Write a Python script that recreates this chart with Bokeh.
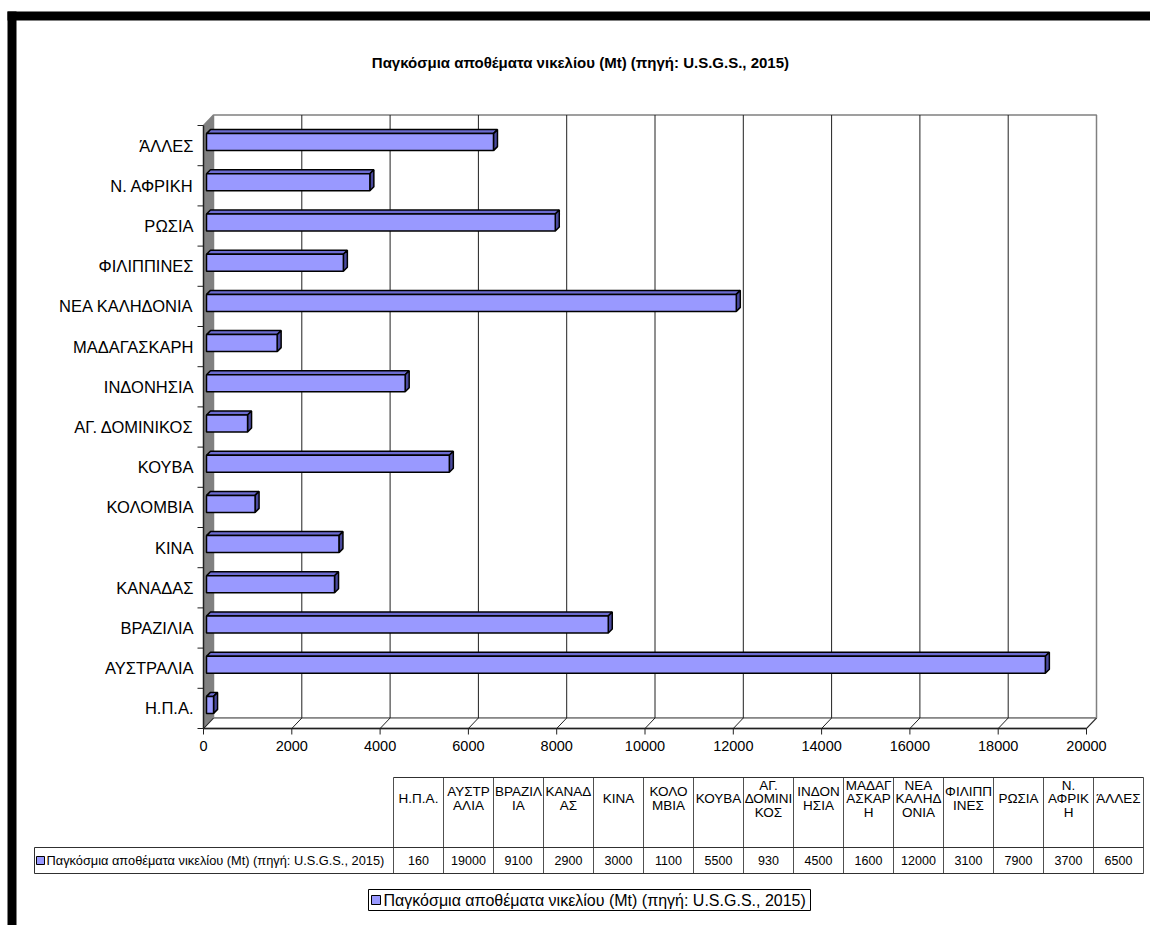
from bokeh.plotting import figure
from bokeh.models import Range1d
from bokeh.embed import file_html
from bokeh.resources import INLINE
from bokeh.core.properties import value

# ---------------- data ----------------
categories = ["Η.Π.Α.", "ΑΥΣΤΡΑΛΙΑ", "ΒΡΑΖΙΛΙΑ", "ΚΑΝΑΔΑΣ", "ΚΙΝΑ", "ΚΟΛΟΜΒΙΑ", "ΚΟΥΒΑ",
              "ΑΓ. ΔΟΜΙΝΙΚΟΣ", "ΙΝΔΟΝΗΣΙΑ", "ΜΑΔΑΓΑΣΚΑΡΗ", "ΝΕΑ ΚΑΛΗΔΟΝΙΑ", "ΦΙΛΙΠΠΙΝΕΣ",
              "ΡΩΣΙΑ", "Ν. ΑΦΡΙΚΗ", "ΆΛΛΕΣ"]
values = [160, 19000, 9100, 2900, 3000, 1100, 5500, 930, 4500, 1600, 12000, 3100, 7900, 3700, 6500]
table_headers = [["Η.Π.Α."], ["ΑΥΣΤΡ", "ΑΛΙΑ"], ["ΒΡΑΖΙΛ", "ΙΑ"], ["ΚΑΝΑΔ", "ΑΣ"], ["ΚΙΝΑ"],
                 ["ΚΟΛΟ", "ΜΒΙΑ"], ["ΚΟΥΒΑ"], ["ΑΓ.", "ΔΟΜΙΝΙ", "ΚΟΣ"], ["ΙΝΔΟΝ", "ΗΣΙΑ"],
                 ["ΜΑΔΑΓ", "ΑΣΚΑΡ", "Η"], ["ΝΕΑ", "ΚΑΛΗΔ", "ΟΝΙΑ"], ["ΦΙΛΙΠΠ", "ΙΝΕΣ"], ["ΡΩΣΙΑ"],
                 ["Ν.", "ΑΦΡΙΚ", "Η"], ["ΆΛΛΕΣ"]]
ticks = [0, 2000, 4000, 6000, 8000, 10000, 12000, 14000, 16000, 18000, 20000]
series_name = "Παγκόσμια αποθέματα νικελίου  (Mt) (πηγή: U.S.G.S., 2015)"
title_text = "Παγκόσμια αποθέματα νικελίου  (Mt) (πηγή: U.S.G.S., 2015)"

# ---------------- geometry ----------------
W, H = 1150, 925
XMAX = 20000
k = 883.0 / XMAX          # px per value unit
U = 40.2                  # px per category
X0_PX = 206               # canvas px of value 0 (bar front face)
Y0_PX = H - 728           # canvas px (from bottom) of front floor edge
ncat = len(categories)

def px(d):   # px -> value units
    return d / k

def py(d):   # px -> category units
    return d / U

FONT = value("Liberation Sans")

p = figure(width=W, height=H,
           x_range=Range1d(-X0_PX / k, (W - X0_PX) / k),
           y_range=Range1d(-Y0_PX / U, (H - Y0_PX) / U),
           output_backend="svg", toolbar_location=None, min_border=0,
           x_axis_location=None, y_axis_location=None)
p.grid.visible = False
p.outline_line_color = None
p.background_fill_color = "white"
p.border_fill_color = "white"
p.extra_x_ranges = {"pgx": Range1d(0, W)}
p.extra_y_ranges = {"pgy": Range1d(H, 0)}

# 3D offsets
AX = px(-3)        # front axis plane relative to bar front face
BK = px(7)         # back wall plane
DY = py(10.5)      # vertical depth offset

# ---------------- walls ----------------
p.patch([AX, BK, BK, AX], [0, DY, ncat + DY, ncat], fill_color="#808080", line_color=None)
p.quad(left=BK, right=XMAX + BK, bottom=DY, top=ncat + DY, fill_color="white",
       line_color="#808080", line_width=1.5)
# floor
p.patch([AX, XMAX + AX, XMAX + BK, BK], [0, 0, DY, DY], fill_color="white",
        line_color="#808080", line_width=1.5)
# gridlines on back wall & floor
inner = ticks[1:-1]
p.segment(x0=[t + BK for t in inner], y0=[DY] * len(inner),
          x1=[t + BK for t in inner], y1=[ncat + DY] * len(inner), line_color="#202020", line_width=1)
p.segment(x0=[t + AX for t in ticks], y0=[0] * len(ticks),
          x1=[t + BK for t in ticks], y1=[DY] * len(ticks), line_color="#202020", line_width=1)
# left wall top diagonal
p.segment(x0=[AX], y0=[ncat], x1=[BK], y1=[ncat + DY], line_color="#808080", line_width=1.5)

# axes lines
p.segment(x0=[AX], y0=[0], x1=[AX], y1=[ncat], line_color="#202020", line_width=1.5)
p.segment(x0=[AX], y0=[0], x1=[XMAX + AX], y1=[0], line_color="#202020", line_width=1.5)
# category ticks
p.segment(x0=[AX - px(6)] * (ncat + 1), y0=list(range(ncat + 1)),
          x1=[AX] * (ncat + 1), y1=list(range(ncat + 1)), line_color="#202020", line_width=1)
# value ticks
p.segment(x0=[t + AX for t in ticks], y0=[0] * len(ticks),
          x1=[t + AX for t in ticks], y1=[-py(6)] * len(ticks), line_color="#202020", line_width=1)

# ---------------- bars ----------------
hh = py(8.5)
up = py(3.5)
dd_x = px(4)
dd_y = py(4)
bot = [i + 0.5 + up - hh for i in range(ncat)]
top = [i + 0.5 + up + hh for i in range(ncat)]

top_xs = [[0, v, v + dd_x, dd_x] for v in values]
top_ys = [[t, t, t + dd_y, t + dd_y] for t in top]
side_xs = [[v, v + dd_x, v + dd_x, v] for v in values]
side_ys = [[b, b + dd_y, t + dd_y, t] for b, t in zip(bot, top)]

p.patches(top_xs, top_ys, fill_color="#6b6bd0", line_color="black", line_width=1.5)
p.patches(side_xs, side_ys, fill_color="#4a4a9e", line_color="black", line_width=1.5)
p.quad(left=[0] * ncat, right=values, bottom=bot, top=top,
       fill_color="#9999FF", line_color="black", line_width=1.5)

# ---------------- labels ----------------
p.text(x=[AX - px(10)] * ncat, y=[i + 0.5 for i in range(ncat)], text=categories,
       text_align="right", text_baseline="middle", text_font=FONT,
       text_font_size="16.5px", text_color="black")
p.text(x=[t + AX for t in ticks], y=[-py(17.5)] * len(ticks), text=[str(t) for t in ticks],
       text_align="center", text_baseline="middle", text_font=FONT,
       text_font_size="14.5px", text_color="black")

# title (page coordinates)
p.text(x=[582], y=[62], text=[title_text], x_range_name="pgx", y_range_name="pgy",
       text_align="center", text_baseline="middle", text_font=FONT,
       text_font_size="15px", text_font_style="bold", text_color="black")

# ---------------- data table ----------------
TL, CW = 393, 50
T_TOP, T_MID, T_BOT = 777, 847, 873
LBL_L = 34
ncol = len(table_headers)
xs_lines = [TL + CW * j for j in range(ncol + 1)]
p.segment(x0=xs_lines, y0=[T_TOP] * len(xs_lines), x1=xs_lines, y1=[T_BOT] * len(xs_lines),
          x_range_name="pgx", y_range_name="pgy", line_color="#505050", line_width=1)
p.segment(x0=[TL, LBL_L, LBL_L, LBL_L], y0=[T_TOP, T_MID, T_BOT, T_MID],
          x1=[xs_lines[-1], xs_lines[-1], xs_lines[-1], LBL_L], y1=[T_TOP, T_MID, T_BOT, T_BOT],
          x_range_name="pgx", y_range_name="pgy", line_color="#303030", line_width=1)

hx, hy, ht = [], [], []
for j, lines in enumerate(table_headers):
    n = len(lines)
    for m, s in enumerate(lines):
        hx.append(TL + CW * j + CW / 2)
        hy.append(798 + (m - (n - 1) / 2) * 13.5)
        ht.append(s)
p.text(x=hx, y=hy, text=ht, x_range_name="pgx", y_range_name="pgy",
       text_align="center", text_baseline="middle", text_font=FONT,
       text_font_size="13.5px", text_color="black")
p.text(x=[TL + CW * j + CW / 2 for j in range(ncol)], y=[860] * ncol,
       text=[str(v) for v in values], x_range_name="pgx", y_range_name="pgy",
       text_align="center", text_baseline="middle", text_font=FONT,
       text_font_size="12.5px", text_color="black")
# legend key inside table
p.quad(left=[36], right=[44], bottom=[864], top=[856], x_range_name="pgx", y_range_name="pgy",
       fill_color="#9999FF", line_color="black", line_width=1)
p.text(x=[46], y=[860], text=[series_name], x_range_name="pgx", y_range_name="pgy",
       text_align="left", text_baseline="middle", text_font=FONT,
       text_font_size="12.8px", text_color="black")

# ---------------- bottom legend ----------------
p.quad(left=[368], right=[810], bottom=[910], top=[889], x_range_name="pgx", y_range_name="pgy",
       fill_color=None, line_color="black", line_width=1)
p.quad(left=[371], right=[380], bottom=[904], top=[895], x_range_name="pgx", y_range_name="pgy",
       fill_color="#9999FF", line_color="black", line_width=1)
p.text(x=[383], y=[900], text=[series_name], x_range_name="pgx", y_range_name="pgy",
       text_align="left", text_baseline="middle", text_font=FONT,
       text_font_size="16px", text_color="black")

# ---------------- thick black frame ----------------
p.quad(left=[7, 7], right=[16, W], bottom=[H, 20], top=[11, 11],
       x_range_name="pgx", y_range_name="pgy", fill_color="black", line_color=None)

open("out.html", "w").write(file_html(p, INLINE))
